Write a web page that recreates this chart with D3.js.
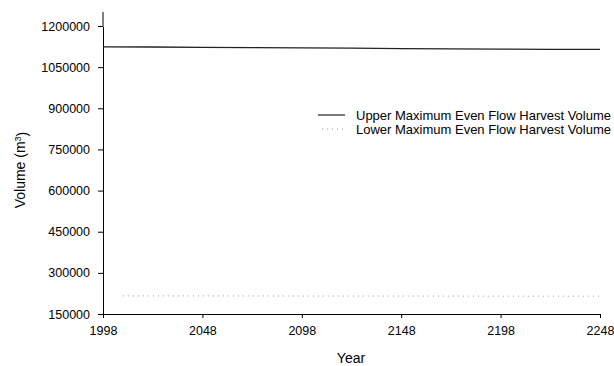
<!DOCTYPE html>
<html>
<head>
<meta charset="utf-8">
<script src="https://cdn.jsdelivr.net/npm/d3@7"></script>
<style>
  body { margin: 0; background: #fff; }
  svg { font-family: "Liberation Sans", Arial, sans-serif; }
  .axis path, .axis line { stroke: #000; }
  .axis text { font-size: 12.5px; fill: #000; }
</style>
</head>
<body>
<svg class="chart"></svg>
<script>
var width = 614, height = 366;
var margin = {top: 26, right: 14, bottom: 52, left: 103};

var x_ticks = [1998, 2048, 2098, 2148, 2198, 2248];
var y_ticks = [150000, 300000, 450000, 600000, 750000, 900000, 1050000, 1200000];

var upper_years = [1998, 2023, 2048, 2073, 2098, 2123, 2148, 2173, 2198, 2223, 2248];
var upper_values = [1124000, 1123500, 1122000, 1121000, 1120000, 1119000, 1117500, 1116500, 1116000, 1115000, 1114500];

var lower_years = [2008, 2048, 2098, 2148, 2198, 2248];
var lower_values = [216000, 216000, 215500, 215500, 215000, 215000];

var series_names = ["Upper Maximum Even Flow Harvest Volume", "Lower Maximum Even Flow Harvest Volume"];

var graph_width = width - margin.left - margin.right,
    graph_height = height - margin.top - margin.bottom;

var x = d3.scaleLinear().domain([1998, 2248]).range([0, graph_width]);
var y = d3.scaleLinear().domain([150000, 1200000]).range([graph_height, 0]);

var chart = d3.select(".chart")
    .attr("width", width)
    .attr("height", height)
  .append("g")
    .attr("transform", "translate(" + margin.left + "," + margin.top + ")");

chart.append("g")
    .attr("class", "x axis")
    .attr("transform", "translate(0," + graph_height + ")")
    .call(d3.axisBottom(x).tickValues(x_ticks).tickFormat(d3.format("d")).tickSize(4).tickSizeOuter(4))
    .call(function(g) { g.selectAll("text").attr("y", 8).attr("dy", "1.0em"); });

chart.append("g")
    .attr("class", "y axis")
    .call(d3.axisLeft(y).tickValues(y_ticks).tickFormat(d3.format("d")).tickSize(5).tickSizeOuter(0))
    .call(function(g) { g.selectAll("text").attr("x", -13); });

// extend y axis a little above the top tick, like the original
chart.append("line")
    .attr("x1", 0).attr("x2", 0)
    .attr("y1", y(1200000)).attr("y2", y(1200000) - 14)
    .attr("stroke", "#000");

var upper = upper_years.map(function(d, i) { return [d, upper_values[i]]; });
var lower = lower_years.map(function(d, i) { return [d, lower_values[i]]; });

var line = d3.line()
    .x(function(d) { return x(d[0]); })
    .y(function(d) { return y(d[1]); });

chart.append("path")
    .datum(upper)
    .attr("d", line)
    .attr("fill", "none")
    .attr("stroke", "#222")
    .attr("stroke-width", 1.3);

chart.append("path")
    .datum(lower)
    .attr("d", line)
    .attr("fill", "none")
    .attr("stroke", "#999")
    .attr("stroke-width", 1)
    .attr("stroke-dasharray", "1,4");

// legend
var legend = d3.select(".chart").append("g")
    .attr("transform", "translate(318,115)");

legend.append("line")
    .attr("x1", 0).attr("x2", 27).attr("y1", 0).attr("y2", 0)
    .attr("stroke", "#222").attr("stroke-width", 1.2);
legend.append("line")
    .attr("x1", 4).attr("x2", 27).attr("y1", 14).attr("y2", 14)
    .attr("stroke", "#999").attr("stroke-width", 1).attr("stroke-dasharray", "1,4");

legend.selectAll("text")
    .data(series_names)
  .enter().append("text")
    .attr("x", 38)
    .attr("y", function(d, i) { return i * 14; })
    .attr("dy", "0.35em")
    .style("font-size", "13px")
    .text(function(d) { return d; });

// axis titles
d3.select(".chart").append("text")
    .attr("x", 351)
    .attr("y", 363)
    .attr("text-anchor", "middle")
    .style("font-size", "14px")
    .text("Year");

var ylab = d3.select(".chart").append("text")
    .attr("transform", "translate(25,170) rotate(-90)")
    .attr("text-anchor", "middle")
    .style("font-size", "14px");
ylab.append("tspan").text("Volume (m");
ylab.append("tspan").attr("dy", "-0.45em").style("font-size", "9px").text("3");
ylab.append("tspan").attr("dy", "0.45em").text(")");
</script>
</body>
</html>
